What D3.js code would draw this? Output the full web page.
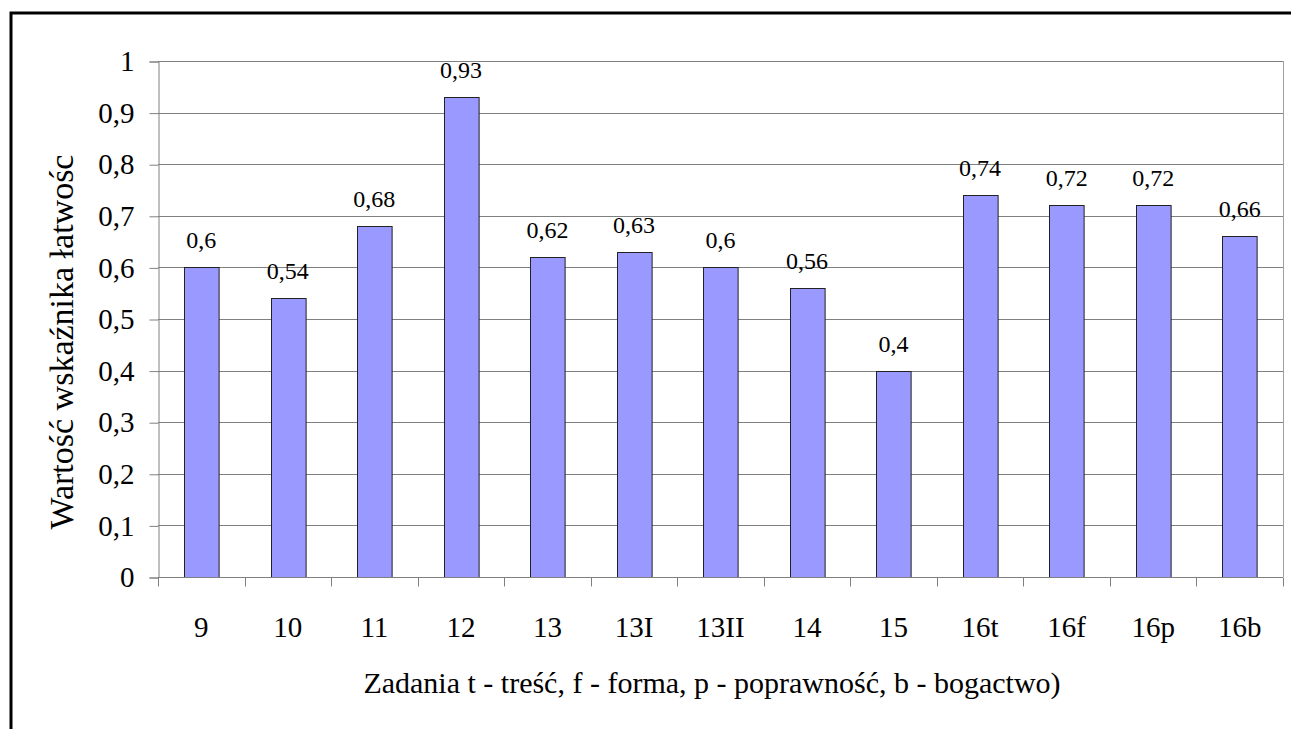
<!DOCTYPE html>
<html>
<head>
<meta charset="utf-8">
<script src="https://cdn.jsdelivr.net/npm/d3@7"></script>
<style>
  body { margin: 0; background: #fff; }
  svg { display: block; }
  svg text { font-family: "Liberation Serif", "Times New Roman", "DejaVu Serif", serif; fill: #000; }
</style>
</head>
<body>
<svg id="graph-svg" width="1291" height="729"></svg>
<script>
const categories = ['9', '10', '11', '12', '13', '13I', '13II', '14', '15', '16t', '16f', '16p', '16b']
const values = [0.6, 0.54, 0.68, 0.93, 0.62, 0.63, 0.6, 0.56, 0.4, 0.74, 0.72, 0.72, 0.66]
const yTicks = [0, 0.1, 0.2, 0.3, 0.4, 0.5, 0.6, 0.7, 0.8, 0.9, 1]
const xTitle = 'Zadania t - treść, f - forma, p - poprawność, b - bogactwo)'
const yTitle = 'Wartość wskaźnika łatwośc'

const margin = { left: 158, right: 8, top: 61, bottom: 152 }
const size = { width: 1291, height: 729 }
const serif = '"Liberation Serif", "Times New Roman", serif'
const gridColor = '#808080'
const barColor = '#9999ff'

const fmt = d => String(d).replace('.', ',')

const svg = d3.select('#graph-svg')

// outer frame (runs off the right and bottom edges)
svg.append('rect')
    .attr('x', 11).attr('y', 13)
    .attr('width', 1400).attr('height', 800)
    .attr('fill', 'none')
    .attr('stroke', '#000')
    .attr('stroke-width', 3)

const x = d3.scaleBand()
    .domain(categories)
    .range([margin.left, size.width - margin.right])
    .paddingInner(0.6)
    .paddingOuter(0.3)

const xOuter = d3.scaleBand()
    .domain(categories)
    .range([margin.left, size.width - margin.right])

const y = d3.scaleLinear()
    .domain([0, 1])
    .range([size.height - margin.bottom, margin.top])

// gridlines
svg.append('g')
    .selectAll('line')
    .data(yTicks.filter(d => d > 0))
    .enter()
    .append('line')
    .attr('x1', margin.left)
    .attr('x2', size.width - margin.right)
    .attr('y1', d => Math.round(y(d)) + 0.5)
    .attr('y2', d => Math.round(y(d)) + 0.5)
    .attr('stroke', gridColor)

// right edge of plot area
svg.append('line')
    .attr('x1', size.width - margin.right + 0.5)
    .attr('x2', size.width - margin.right + 0.5)
    .attr('y1', margin.top)
    .attr('y2', y(0))
    .attr('stroke', '#a0a0a0')

// bars
svg.append('g')
    .selectAll('rect')
    .data(values)
    .enter()
    .append('rect')
    .attr('x', (d, i) => Math.round(x(categories[i])) + 0.5)
    .attr('y', d => Math.round(y(d)) + 0.5)
    .attr('width', x.bandwidth())
    .attr('height', d => Math.round(y(0)) - Math.round(y(d)))
    .attr('fill', barColor)
    .attr('stroke', '#222')
    .attr('stroke-width', 1)

// value labels
svg.append('g')
    .selectAll('text')
    .data(values)
    .enter()
    .append('text')
    .attr('x', (d, i) => x(categories[i]) + x.bandwidth() / 2)
    .attr('y', d => y(d) - 19)
    .attr('text-anchor', 'middle')
    .attr('font-family', serif)
    .style('font-size', '24px')
    .text(d => fmt(d))

// Y-axis
const yAxis = d3.axisLeft(y).tickValues(yTicks).tickSize(9).tickPadding(15).tickFormat(fmt)
const gy = svg.append('g')
    .attr('transform', `translate(${margin.left + 0.5}, 0.5)`)
    .call(yAxis)
gy.attr('font-family', serif)
gy.select('.domain').attr('stroke', gridColor)
gy.selectAll('.tick line').attr('stroke', gridColor)
gy.selectAll('.tick text')
    .attr('fill', '#000')
    .style('font-size', '29px')

// X-axis: ticks on the category boundaries
const edges = categories.map(c => xOuter(c)).concat([size.width - margin.right])
const gx = svg.append('g')
    .attr('transform', `translate(0, ${Math.round(y(0)) + 0.5})`)
gx.append('line')
    .attr('x1', margin.left).attr('x2', size.width - margin.right)
    .attr('stroke', gridColor)
gx.selectAll('line.t')
    .data(edges)
    .enter()
    .append('line')
    .attr('class', 't')
    .attr('x1', d => Math.round(d) + 0.5)
    .attr('x2', d => Math.round(d) + 0.5)
    .attr('y1', 0).attr('y2', 9)
    .attr('stroke', gridColor)
gx.selectAll('text')
    .data(categories)
    .enter()
    .append('text')
    .attr('x', d => xOuter(d) + xOuter.bandwidth() / 2)
    .attr('y', 59)
    .attr('text-anchor', 'middle')
    .attr('font-family', serif)
    .style('font-size', '29px')
    .text(d => d)

// axis titles
svg.append('text')
    .attr('x', 712)
    .attr('y', 693)
    .attr('text-anchor', 'middle')
    .attr('font-family', serif)
    .style('font-size', '30px')
    .text(xTitle)

svg.append('text')
    .attr('transform', `translate(73, 342) rotate(-90)`)
    .attr('text-anchor', 'middle')
    .attr('font-family', serif)
    .style('font-size', '34px')
    .text(yTitle)
</script>
</body>
</html>
